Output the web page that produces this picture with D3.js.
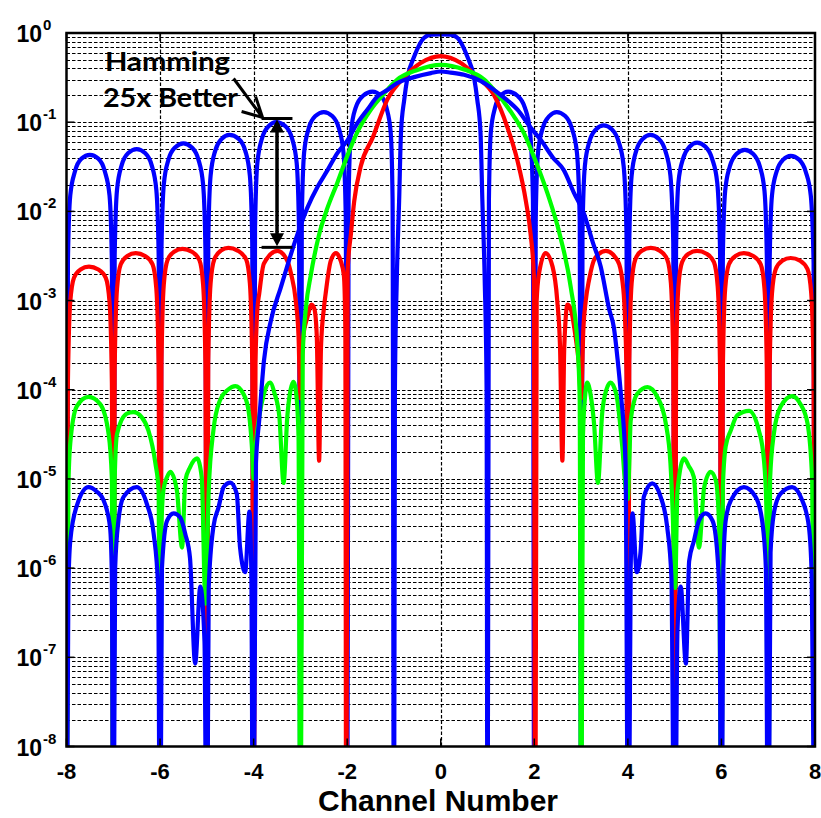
<!DOCTYPE html>
<html>
<head>
<meta charset="utf-8">
<script src="https://cdn.jsdelivr.net/npm/d3@7"></script>
<style>
  body { margin: 0; background: #fff; }
  svg { display: block; }
  .lab { font-family: "Liberation Sans", Arial, sans-serif; font-weight: bold; fill: #000; }
  .note { font-family: Lato, "Open Sans", sans-serif; font-weight: bold; fill: #000; }
</style>
</head>
<body>
<div id="d3-container"></div>
<script>
/**
 * CONSTANTS
 * */
const width = 821,
  height = 818,
  margin = { top: 33, bottom: 71.5, left: 66.5, right: 6 };

/**
 * DATA  (x = channel number, y = response)
 * a value of 1e-10 marks a null that drops below the axis
 * */
const xTicks = [-8, -6, -4, -2, 0, 2, 4, 6, 8];
const yTickExps = [0, -1, -2, -3, -4, -5, -6, -7, -8];

// rectangular window, high sidelobes
const blueRect = [
  [-8, 1e-10], [-7.97, 2.7e-3], [-7.92, 0.015], [-7.82, 0.028], [-7.68, 0.039], [-7.5, 0.043], [-7.32, 0.039], [-7.18, 0.028], [-7.08, 0.015], [-7.03, 2.7e-3],
  [-7, 1e-10], [-6.97, 3.2e-3], [-6.92, 0.0175], [-6.82, 0.033], [-6.68, 0.045], [-6.5, 0.05], [-6.32, 0.045], [-6.18, 0.033], [-6.08, 0.0175], [-6.03, 3.2e-3],
  [-6, 1e-10], [-5.97, 3.7e-3], [-5.92, 0.02], [-5.82, 0.038], [-5.68, 0.052], [-5.5, 0.058], [-5.32, 0.052], [-5.18, 0.038], [-5.08, 0.02], [-5.03, 3.7e-3],
  [-5, 1e-10], [-4.97, 4.5e-3], [-4.92, 0.025], [-4.82, 0.048], [-4.68, 0.065], [-4.52, 0.072], [-4.32, 0.065], [-4.18, 0.048], [-4.08, 0.025], [-4.03, 4.5e-3],
  [-4, 1e-10], [-3.97, 6.3e-3], [-3.92, 0.035], [-3.82, 0.066], [-3.68, 0.09], [-3.52, 0.1], [-3.32, 0.09], [-3.18, 0.066], [-3.08, 0.035], [-3.03, 6.3e-3],
  [-3, 1e-10], [-2.97, 8.2e-3], [-2.92, 0.046], [-2.82, 0.086], [-2.68, 0.117], [-2.5, 0.13], [-2.32, 0.117], [-2.18, 0.086], [-2.08, 0.046], [-2.03, 8.2e-3],
  [-2, 1e-10], [-1.97, 0.014], [-1.92, 0.077], [-1.82, 0.145], [-1.66, 0.198], [-1.46, 0.22], [-1.28, 0.198], [-1.16, 0.145], [-1.07, 0.077], [-1.03, 0.014],
  [-1, 1e-10], [-0.98, 1e-4], [-0.94, 1.7e-3], [-0.89, 0.013], [-0.85, 0.076], [-0.78, 0.18], [-0.71, 0.32], [-0.57, 0.54], [-0.36, 0.88], [-0.2, 0.96], [0, 0.965],
  [0.2, 0.96], [0.36, 0.88], [0.57, 0.54], [0.71, 0.32], [0.78, 0.18], [0.85, 0.076], [0.89, 0.013], [0.94, 1.7e-3], [0.98, 1e-4],
  [1, 1e-10], [1.03, 0.014], [1.07, 0.077], [1.16, 0.145], [1.28, 0.198], [1.44, 0.22], [1.64, 0.198], [1.8, 0.145], [1.91, 0.077], [1.97, 0.014],
  [2, 1e-10], [2.03, 8.2e-3], [2.08, 0.046], [2.18, 0.086], [2.32, 0.117], [2.48, 0.13], [2.66, 0.117], [2.8, 0.086], [2.91, 0.046], [2.97, 8.2e-3],
  [3, 1e-10], [3.03, 5.8e-3], [3.08, 0.032], [3.18, 0.061], [3.32, 0.083], [3.48, 0.092], [3.66, 0.083], [3.8, 0.061], [3.91, 0.032], [3.97, 5.8e-3],
  [4, 1e-10], [4.03, 4.5e-3], [4.08, 0.025], [4.18, 0.048], [4.32, 0.065], [4.48, 0.072], [4.66, 0.065], [4.8, 0.048], [4.91, 0.025], [4.97, 4.5e-3],
  [5, 1e-10], [5.03, 3.7e-3], [5.08, 0.021], [5.18, 0.039], [5.32, 0.053], [5.48, 0.059], [5.66, 0.053], [5.8, 0.039], [5.91, 0.021], [5.97, 3.7e-3],
  [6, 1e-10], [6.03, 3.1e-3], [6.08, 0.017], [6.18, 0.032], [6.32, 0.044], [6.5, 0.049], [6.68, 0.044], [6.82, 0.032], [6.92, 0.017], [6.97, 3.1e-3],
  [7, 1e-10], [7.03, 2.6e-3], [7.08, 0.015], [7.18, 0.028], [7.32, 0.038], [7.48, 0.042], [7.66, 0.038], [7.8, 0.028], [7.91, 0.015], [7.97, 2.6e-3],
  [8, 1e-10]
];

// Hamming window, ~3e-3 sidelobes
const red = [
  [-8, 1e-10], [-7.97, 1.2e-4], [-7.92, 9.6e-4], [-7.84, 1.8e-3], [-7.7, 2.23e-3], [-7.52, 2.4e-3], [-7.32, 2.23e-3], [-7.16, 1.8e-3], [-7.08, 9.6e-4], [-7.03, 1.2e-4],
  [-7, 1e-10], [-6.97, 1.7e-4], [-6.92, 1.36e-3], [-6.84, 2.55e-3], [-6.7, 3.16e-3], [-6.52, 3.4e-3], [-6.32, 3.16e-3], [-6.16, 2.55e-3], [-6.08, 1.36e-3], [-6.03, 1.7e-4],
  [-6, 1e-10], [-5.97, 1.9e-4], [-5.92, 1.52e-3], [-5.84, 2.85e-3], [-5.7, 3.53e-3], [-5.52, 3.8e-3], [-5.32, 3.53e-3], [-5.16, 2.85e-3], [-5.08, 1.52e-3], [-5.03, 1.9e-4],
  [-5, 1e-10], [-4.97, 2e-4], [-4.92, 1.56e-3], [-4.84, 2.9e-3], [-4.7, 3.63e-3], [-4.54, 3.9e-3], [-4.34, 3.63e-3], [-4.16, 2.9e-3], [-4.08, 1.56e-3], [-4.03, 2e-4],
  [-4, 1e-10], [-3.96, 2e-4], [-3.92, 8e-4], [-3.88, 1.2e-3], [-3.78, 2.6e-3], [-3.49, 3.6e-3], [-3.28, 2.8e-3], [-3.2, 2e-3], [-3.1, 1e-3], [-3.04, 4e-4], [-3, 8e-5],
  [-2.94, 4e-4], [-2.85, 6.5e-4], [-2.76, 9e-4], [-2.7, 8e-4], [-2.65, 4e-4], [-2.6, 1.6e-5], [-2.56, 3e-4], [-2.5, 8e-4], [-2.46, 1.2e-3], [-2.35, 2.8e-3],
  [-2.24, 3.4e-3], [-2.14, 2.8e-3], [-2.07, 1.9e-3], [-2.04, 5e-4], [-2.02, 1e-10],
  [-1.99, 2.2e-3], [-1.92, 5.6e-3], [-1.85, 0.013], [-1.71, 0.032], [-1.45, 0.068], [-1.14, 0.18], [-0.78, 0.32], [-0.43, 0.46], [0, 0.55],
  [0.43, 0.46], [0.78, 0.32], [1.14, 0.2], [1.42, 0.089], [1.64, 0.037], [1.82, 0.013], [1.92, 5.6e-3], [1.99, 1.9e-3], [2.02, 1e-10],
  [2.05, 1e-3], [2.1, 2e-3], [2.24, 3.4e-3], [2.39, 2.4e-3], [2.49, 1e-3], [2.55, 3e-4], [2.6, 1.6e-5], [2.64, 3e-4], [2.71, 9e-4], [2.78, 8e-4], [2.88, 4e-4], [2.95, 2e-4], [3, 8e-5],
  [3.05, 5e-4], [3.1, 1e-3], [3.17, 1.7e-3], [3.3, 3e-3], [3.53, 3.6e-3], [3.78, 2.8e-3], [3.88, 1.7e-3], [3.93, 8e-4], [3.97, 1.5e-4],
  [4, 1e-10], [4.03, 2e-4], [4.08, 1.56e-3], [4.16, 2.9e-3], [4.3, 3.63e-3], [4.49, 3.9e-3], [4.68, 3.63e-3], [4.84, 2.9e-3], [4.92, 1.56e-3], [4.97, 2e-4],
  [5, 1e-10], [5.03, 1.8e-4], [5.08, 1.44e-3], [5.16, 2.7e-3], [5.3, 3.35e-3], [5.48, 3.6e-3], [5.68, 3.35e-3], [5.84, 2.7e-3], [5.92, 1.44e-3], [5.97, 1.8e-4],
  [6, 1e-10], [6.03, 1.7e-4], [6.08, 1.36e-3], [6.16, 2.55e-3], [6.3, 3.16e-3], [6.48, 3.4e-3], [6.68, 3.16e-3], [6.84, 2.55e-3], [6.92, 1.36e-3], [6.97, 1.7e-4],
  [7, 1e-10], [7.03, 1.5e-4], [7.08, 1.2e-3], [7.16, 2.25e-3], [7.3, 2.8e-3], [7.48, 3e-3], [7.68, 2.8e-3], [7.84, 2.25e-3], [7.92, 1.2e-3], [7.97, 1.5e-4],
  [8, 1e-10]
];

// ~1e-4 sidelobes
const green = [
  [-8, 1e-10], [-7.96, 8e-6], [-7.92, 2.5e-5], [-7.78, 6.5e-5], [-7.53, 8.3e-5], [-7.28, 6.9e-5], [-7.1, 3.2e-5], [-7.03, 1e-5],
  [-7, 1e-10], [-6.97, 1e-5], [-6.92, 3.2e-5], [-6.71, 5.4e-5], [-6.57, 5.6e-5], [-6.39, 4.9e-5], [-6.25, 3.5e-5], [-6.1, 1.5e-5], [-6.03, 7.4e-6],
  [-6, 1e-10], [-5.97, 3e-6], [-5.93, 7.4e-6], [-5.85, 1.05e-5], [-5.78, 1.2e-5], [-5.64, 7.4e-6], [-5.53, 1.7e-6], [-5.46, 9.6e-6], [-5.36, 1.35e-5],
  [-5.21, 1.7e-5], [-5.11, 1.05e-5], [-5.03, 4e-7],
  [-4.96, 7.4e-6], [-4.86, 3.5e-5], [-4.72, 7.6e-5], [-4.55, 1e-4], [-4.39, 1.1e-4], [-4.22, 9e-5], [-4.11, 5.9e-5], [-4.03, 2e-5], [-4, 1e-5],
  [-3.95, 2.5e-5], [-3.88, 5e-5], [-3.78, 9e-5], [-3.65, 1.2e-4], [-3.55, 9e-5], [-3.45, 5e-5], [-3.36, 9e-6], [-3.28, 5e-5], [-3.21, 1e-4],
  [-3.15, 1.23e-4], [-3.09, 9e-5], [-3.04, 3e-5], [-3, 1e-10],
  [-2.95, 2.5e-4], [-2.88, 8.5e-4], [-2.78, 1.9e-3], [-2.6, 5.5e-3], [-2.42, 0.011], [-2.21, 0.021], [-1.99, 0.043], [-1.78, 0.078], [-1.5, 0.137],
  [-1.21, 0.21], [-0.93, 0.3], [-0.5, 0.385], [0, 0.44],
  [0.5, 0.39], [0.93, 0.3], [1.14, 0.23], [1.57, 0.115], [1.78, 0.075], [2, 0.04], [2.28, 0.016], [2.56, 5.1e-3], [2.78, 1.4e-3], [2.92, 3.3e-4], [2.97, 8e-5],
  [3, 1e-10], [3.04, 3e-5], [3.09, 9e-5], [3.13, 1.2e-4], [3.2, 9e-5], [3.28, 4e-5], [3.36, 9e-6], [3.45, 5.4e-5], [3.54, 1e-4], [3.63, 1.2e-4],
  [3.75, 9e-5], [3.88, 2.3e-5], [3.95, 8e-6], [4, 6e-6],
  [4.03, 1.5e-5], [4.06, 4.5e-5], [4.2, 9e-5], [4.42, 1.07e-4], [4.63, 8.3e-5], [4.81, 4.2e-5], [4.91, 1.5e-5], [4.96, 4e-6], [5.01, 6e-7],
  [5.06, 7.4e-6], [5.2, 1.7e-5], [5.3, 1.4e-5], [5.41, 1.05e-5], [5.52, 1.7e-6], [5.63, 8e-6], [5.77, 1.2e-5], [5.88, 9.6e-6], [5.95, 3e-6],
  [6, 1e-10], [6.03, 8e-6], [6.09, 2.3e-5], [6.2, 3.5e-5], [6.34, 5.2e-5], [6.59, 5.8e-5], [6.8, 3.5e-5], [6.91, 1.6e-5], [6.96, 5e-6],
  [7, 1e-10], [7.04, 1e-5], [7.12, 3.2e-5], [7.26, 6.4e-5], [7.51, 8.5e-5], [7.69, 6.9e-5], [7.84, 4.2e-5], [7.94, 9.6e-6],
  [8, 1e-10]
];

// wide main lobe, ~1e-5 sidelobes
const blueWide = [
  [-8, 1e-10], [-7.96, 6e-7], [-7.92, 2e-6], [-7.78, 5e-6], [-7.53, 8.1e-6], [-7.35, 7.2e-6], [-7.21, 5.8e-6], [-7.07, 2.9e-6], [-7.03, 8e-7],
  [-7, 1e-10], [-6.96, 1e-6], [-6.89, 3.4e-6], [-6.78, 6.3e-6], [-6.5, 8.1e-6], [-6.28, 5.2e-6], [-6.14, 2.5e-6], [-6.04, 6e-7],
  [-6, 1e-10], [-5.96, 1e-6], [-5.85, 3.4e-6], [-5.71, 4.1e-6], [-5.57, 3.7e-6], [-5.46, 2.4e-6], [-5.36, 1.3e-6], [-5.25, 8.5e-8], [-5.14, 6.2e-7], [-5.05, 1.5e-7],
  [-5, 1e-10], [-4.96, 6e-7], [-4.86, 2.9e-6], [-4.75, 4.8e-6], [-4.64, 8.1e-6], [-4.5, 9.1e-6], [-4.36, 6.8e-6], [-4.29, 1.7e-6], [-4.18, 9e-7], [-4.09, 4.3e-6], [-4.05, 1e-6],
  [-4.01, 1e-10], [-3.95, 1.5e-5], [-3.88, 4.6e-5], [-3.78, 2.1e-4], [-3.63, 6e-4], [-3.42, 1.4e-3], [-3.06, 5.6e-3], [-2.85, 0.011], [-2.63, 0.019],
  [-2.42, 0.029], [-2.21, 0.045], [-1.99, 0.063], [-1.78, 0.098], [-1.57, 0.138], [-1.35, 0.195], [-1.14, 0.23], [-0.93, 0.275], [-0.57, 0.32], [-0.21, 0.355], [0, 0.37],
  [0.21, 0.36], [0.5, 0.34], [0.85, 0.29], [1.14, 0.23], [1.4, 0.18], [1.64, 0.138], [1.9, 0.09], [2.14, 0.063], [2.4, 0.04], [2.63, 0.029], [2.85, 0.016],
  [3.06, 9.5e-3], [3.25, 4.5e-3], [3.42, 2.4e-3], [3.6, 8e-4], [3.7, 5e-4], [3.78, 2.2e-4], [3.85, 9e-5], [3.95, 1.5e-5],
  [4.01, 1e-10], [4.06, 1e-6], [4.1, 4.1e-6], [4.19, 9e-7], [4.27, 1.5e-6], [4.34, 6.3e-6], [4.52, 8.9e-6], [4.7, 6.3e-6], [4.84, 2.9e-6], [4.93, 8e-7],
  [5, 1e-10], [5.06, 2e-7], [5.13, 6.2e-7], [5.24, 8.5e-8], [5.31, 1.2e-6], [5.41, 2e-6], [5.52, 3.4e-6], [5.66, 4.1e-6], [5.81, 3.4e-6], [5.91, 1.5e-6], [5.96, 4e-7],
  [6, 1e-10], [6.04, 1e-6], [6.09, 3.4e-6], [6.2, 5.7e-6], [6.48, 8.1e-6], [6.73, 6.3e-6], [6.87, 3.4e-6], [6.95, 1e-6],
  [7, 1e-10], [7.05, 1.5e-6], [7.12, 4.1e-6], [7.26, 6.8e-6], [7.51, 8.1e-6], [7.73, 5.7e-6], [7.87, 2.9e-6], [7.93, 8e-7],
  [8, 1e-10]
];

// drawing order matters: later series sit on top
const series = [
  { name: "rect", color: "#0000ff", values: blueRect },
  { name: "hamming", color: "#ff0000", values: red },
  { name: "lowside", color: "#00ff00", values: green },
  { name: "wide", color: "#0000ff", values: blueWide }
];

// "25x better" annotation: span between the two sidelobe levels
const annX = [-3.83, -3.17];
const annArrowX = -3.5;
const annTop = 0.11;
const annBottom = 3.95e-3;

/**
 * SCALES
 * */
const xScale = d3.scaleLinear().domain([-8, 8]).range([margin.left, width - margin.right]);
const yScale = d3.scaleLog().domain([1e-8, 1]).range([height - margin.bottom, margin.top]);

const svg = d3.select("#d3-container")
  .append("svg")
  .attr("width", width)
  .attr("height", height);

svg.append("clipPath")
  .attr("id", "plot-clip")
  .append("rect")
  .attr("x", margin.left)
  .attr("y", margin.top)
  .attr("width", width - margin.right - margin.left)
  .attr("height", height - margin.bottom - margin.top);

/**
 * GRID
 * */
const grid = svg.append("g")
  .attr("stroke", "#000")
  .attr("stroke-width", 1.2)
  .attr("stroke-dasharray", "3.5,2");

grid.selectAll(".hgrid")
  .data(yScale.ticks().filter(v => v > 1e-8 && v < 1))
  .join("line")
  .attr("class", "hgrid")
  .attr("x1", margin.left)
  .attr("x2", width - margin.right)
  .attr("y1", d => Math.round(yScale(d)) + 0.5)
  .attr("y2", d => Math.round(yScale(d)) + 0.5);

grid.selectAll(".vgrid")
  .data(xTicks.slice(1, -1))
  .join("line")
  .attr("class", "vgrid")
  .attr("y1", margin.top)
  .attr("y2", height - margin.bottom)
  .attr("x1", d => Math.round(xScale(d)) + 0.5)
  .attr("x2", d => Math.round(xScale(d)) + 0.5);

/**
 * CURVES
 * */
const line = d3.line()
  .x(d => xScale(d[0]))
  .y(d => yScale(d[1]))
  .curve(d3.curveMonotoneX);

svg.append("g")
  .attr("clip-path", "url(#plot-clip)")
  .selectAll("path")
  .data(series)
  .join("path")
  .attr("fill", "none")
  .attr("stroke", d => d.color)
  .attr("stroke-width", 4.2)
  .attr("stroke-linejoin", "round")
  .attr("d", d => line(d.values));

/**
 * FRAME, TICKS, LABELS
 * */
const y0 = height - margin.bottom;
const x1 = width - margin.right;

svg.append("rect")
  .attr("x", margin.left)
  .attr("y", margin.top)
  .attr("width", x1 - margin.left)
  .attr("height", y0 - margin.top)
  .attr("fill", "none")
  .attr("stroke", "#000")
  .attr("stroke-width", 2.5);

const ticks = svg.append("g").attr("stroke", "#000").attr("stroke-width", 1.5);
xTicks.forEach(t => {
  ticks.append("line").attr("x1", xScale(t)).attr("x2", xScale(t)).attr("y1", y0).attr("y2", y0 - 8);
  ticks.append("line").attr("x1", xScale(t)).attr("x2", xScale(t)).attr("y1", margin.top).attr("y2", margin.top + 8);
});
yTickExps.forEach(e => {
  const y = yScale(Math.pow(10, e));
  ticks.append("line").attr("x1", margin.left).attr("x2", margin.left + 8).attr("y1", y).attr("y2", y);
  ticks.append("line").attr("x1", x1).attr("x2", x1 - 8).attr("y1", y).attr("y2", y);
});

svg.selectAll(".xlab")
  .data(xTicks)
  .join("text")
  .attr("class", "lab xlab")
  .attr("x", d => xScale(d))
  .attr("y", y0 + 32)
  .attr("text-anchor", "middle")
  .attr("font-size", 22)
  .text(d => String(d));

svg.selectAll(".ybase")
  .data(yTickExps)
  .join("text")
  .attr("class", "lab ybase")
  .attr("x", 42)
  .attr("y", d => yScale(Math.pow(10, d)) + 9)
  .attr("text-anchor", "end")
  .attr("font-size", 23)
  .text("10");

svg.selectAll(".yexp")
  .data(yTickExps)
  .join("text")
  .attr("class", "lab yexp")
  .attr("x", 43)
  .attr("y", d => yScale(Math.pow(10, d)) - 3)
  .attr("font-size", 15)
  .text(d => String(d));

svg.append("text")
  .attr("class", "lab")
  .attr("x", 438)
  .attr("y", 811)
  .attr("text-anchor", "middle")
  .attr("font-size", 30)
  .text("Channel Number");

/**
 * ANNOTATION
 * */
const ann = svg.append("g");
const yTop = yScale(annTop), yBot = yScale(annBottom), xa = xScale(annArrowX);

[yTop, yBot].forEach(y => {
  ann.append("line")
    .attr("x1", xScale(annX[0])).attr("x2", xScale(annX[1]))
    .attr("y1", y).attr("y2", y)
    .attr("stroke", "#000").attr("stroke-width", 3);
});

ann.append("line")
  .attr("x1", xa).attr("x2", xa)
  .attr("y1", yTop + 10).attr("y2", yBot - 10)
  .attr("stroke", "#000").attr("stroke-width", 3.5);

ann.append("path")
  .attr("d", `M${xa},${yTop + 1}L${xa - 7},${yTop + 14}L${xa + 7},${yTop + 14}Z`)
  .attr("fill", "#000");
ann.append("path")
  .attr("d", `M${xa},${yBot - 1}L${xa - 7},${yBot - 14}L${xa + 7},${yBot - 14}Z`)
  .attr("fill", "#000");

// pointer from the text to the upper bar
const tipX = xScale(annX[0]) + 1, tipY = yTop - 1;
ann.append("path")
  .attr("d", `M${tipX - 29},${tipY - 39}L${tipX},${tipY}M${tipX - 21},${tipY - 6}L${tipX},${tipY}L${tipX - 7},${tipY - 21}`)
  .attr("fill", "none")
  .attr("stroke", "#000")
  .attr("stroke-width", 3)
  .attr("stroke-linejoin", "miter");

ann.append("text")
  .attr("class", "note")
  .attr("x", 105)
  .attr("y", 71)
  .attr("font-size", 26)
  .attr("textLength", 125)
  .attr("lengthAdjust", "spacingAndGlyphs")
  .text("Hamming");

ann.append("text")
  .attr("class", "note")
  .attr("x", 103)
  .attr("y", 107)
  .attr("font-size", 26)
  .attr("textLength", 135)
  .attr("lengthAdjust", "spacingAndGlyphs")
  .text("25x Better");
</script>
</body>
</html>
